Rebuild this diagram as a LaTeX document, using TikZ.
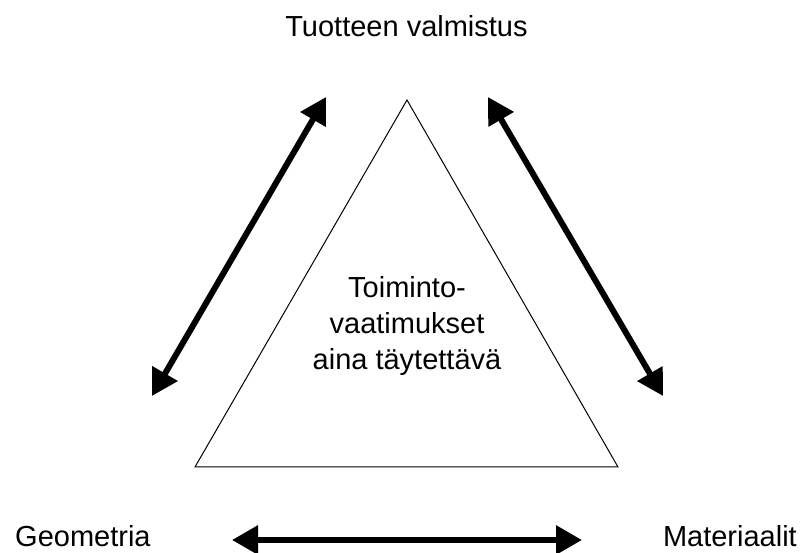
\documentclass[tikz,border=0pt]{standalone}
\usepackage{fontspec}
\setmainfont{Liberation Sans}
\usetikzlibrary{arrows.meta}
\begin{document}
\begin{tikzpicture}[x=1pt,y=-1pt,
  lbl/.style={font=\fontsize{29}{36}\selectfont, inner sep=0pt},
  bigarrow/.style={line width=6pt, {Triangle[length=26pt,width=28pt]}-{Triangle[length=26pt,width=28pt]}},
  tri/.style={draw, line width=1pt}]
\useasboundingbox (0,0) rectangle (807,553);
\fill[white] (0,0) rectangle (807,553);
% triangle
\coordinate (apex) at (407,100);
\coordinate (bl) at (195,467);
\coordinate (br) at (618,467);
\draw[tri] (apex) -- (bl) -- (br) -- cycle;
% labels
\node[lbl, anchor=base] (top) at (406.5,37) {Tuotteen valmistus};
\node[lbl, anchor=base west] (geo) at (15,547) {Geometria};
\node[lbl, anchor=base east] (mat) at (797,547) {Materiaalit};
\node[lbl, anchor=base, align=center] (mid) at (407,370) {Toiminto-\\vaatimukset\\aina täytettävä};
% arrows
\coordinate (l1) at (152,396);
\coordinate (l2) at (326,97);
\coordinate (r1) at (488,97);
\coordinate (r2) at (663,396);
\coordinate (b1) at (232,540);
\coordinate (b2) at (582,540);
\draw[bigarrow] (l1) -- (l2);
\draw[bigarrow] (r1) -- (r2);
\draw[bigarrow] (b1) -- (b2);
\end{tikzpicture}
\end{document}
